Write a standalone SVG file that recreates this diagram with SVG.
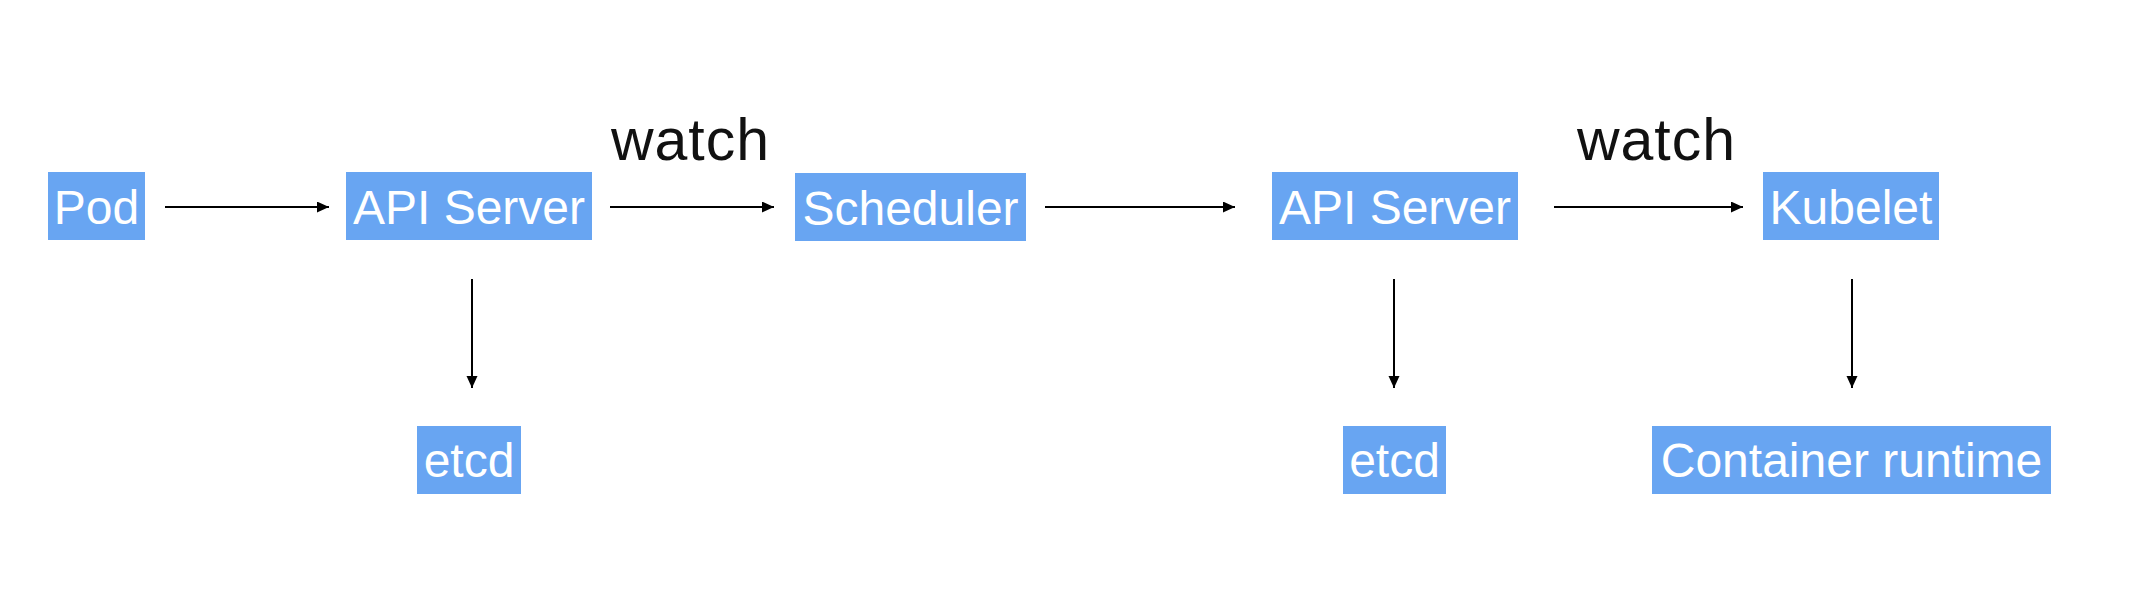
<svg xmlns="http://www.w3.org/2000/svg" width="2152" height="608" viewBox="0 0 2152 608">
<style>
.box{fill:#68a5f2}
.lbl{font-family:"Liberation Sans",Arial,sans-serif;font-size:48px;fill:#ffffff;text-anchor:middle}
.watch{font-family:"Liberation Sans",Arial,sans-serif;font-size:59px;fill:#111111}
.conn{stroke:#000;stroke-width:2;fill:none;marker-end:url(#arr)}
</style>
<defs>
<marker id="arr" markerUnits="userSpaceOnUse" markerWidth="13" markerHeight="12" refX="12" refY="5.5" orient="auto">
<path d="M0,0 L12,5.5 L0,11 Z" fill="#000"/>
</marker>
</defs>
<rect width="2152" height="608" fill="#ffffff"/>
<g id="connectors">
<line class="conn" x1="165" y1="207" x2="329" y2="207"/>
<line class="conn" x1="610" y1="207" x2="774" y2="207"/>
<line class="conn" x1="1045" y1="207" x2="1235" y2="207"/>
<line class="conn" x1="1554" y1="207" x2="1743" y2="207"/>
<line class="conn" x1="472" y1="279" x2="472" y2="388"/>
<line class="conn" x1="1394" y1="279" x2="1394" y2="388"/>
<line class="conn" x1="1852" y1="279" x2="1852" y2="388"/>
<text class="watch" x="611" y="160" textLength="158">watch</text>
<text class="watch" x="1577" y="160" textLength="158">watch</text>
</g>
<g id="pod"><rect class="box" x="48" y="172" width="97" height="68"/><text class="lbl" x="96.5" y="224">Pod</text></g>
<g id="api1"><rect class="box" x="346" y="172" width="246" height="68"/><text class="lbl" x="469" y="224">API Server</text></g>
<g id="scheduler"><rect class="box" x="795" y="173" width="231" height="68"/><text class="lbl" x="910.5" y="225">Scheduler</text></g>
<g id="api2"><rect class="box" x="1272" y="172" width="246" height="68"/><text class="lbl" x="1395" y="224">API Server</text></g>
<g id="kubelet"><rect class="box" x="1763" y="172" width="176" height="68"/><text class="lbl" x="1851" y="224">Kubelet</text></g>
<g id="etcd1"><rect class="box" x="417" y="426" width="104" height="68"/><text class="lbl" x="469" y="477">etcd</text></g>
<g id="etcd2"><rect class="box" x="1343" y="426" width="103" height="68"/><text class="lbl" x="1394.5" y="477">etcd</text></g>
<g id="runtime"><rect class="box" x="1652" y="426" width="399" height="68"/><text class="lbl" x="1851.5" y="477">Container runtime</text></g>
</svg>
